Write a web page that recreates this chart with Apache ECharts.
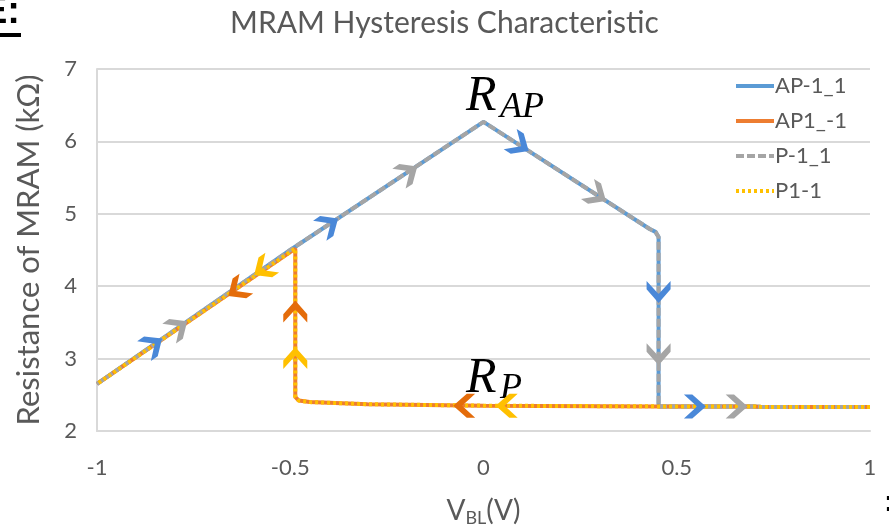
<!DOCTYPE html>
<html>
<head>
<meta charset="utf-8">
<script src="https://cdn.jsdelivr.net/npm/echarts@6/dist/echarts.min.js"></script>
<style>
  html, body { margin: 0; padding: 0; background: #fff; }
  #main { width: 889px; height: 529px; }
</style>
</head>
<body>
<div id="main"></div>
<script>
// Sweep curves: [V_BL (V), resistance (kΩ)]
const apNeg1to1 = [
  [-1, 2.65], [-0.5, 4.5], [0, 6.27], [0.43, 4.79], [0.445, 4.75], [0.453, 4.68],
  [0.453, 2.34], [0.7, 2.34], [0.72, 2.33], [1, 2.33]
];
const ap1toNeg1 = [
  [1, 2.33], [0.72, 2.33], [0.7, 2.34], [0.45, 2.34], [0, 2.35], [-0.3, 2.37],
  [-0.45, 2.4], [-0.478, 2.42], [-0.487, 2.47], [-0.487, 4.52], [-1, 2.65]
];
const pNeg1to1 = [
  [-1, 2.65], [-0.5, 4.5], [0, 6.27], [0.43, 4.79], [0.445, 4.75], [0.453, 4.68],
  [0.453, 2.34], [0.7, 2.34], [0.72, 2.33], [1, 2.33]
];
const p1toNeg1 = [
  [1, 2.33], [0.72, 2.33], [0.7, 2.34], [0.45, 2.34], [0, 2.35], [-0.3, 2.37],
  [-0.45, 2.4], [-0.478, 2.42], [-0.487, 2.47], [-0.487, 4.52], [-1, 2.65]
];

// Sweep-direction markers: [V, R, dV, dR] (direction given in data units)
const arrowsBlue = [
  [-0.855, 3.19, 1, 3.7], [-0.4, 4.85, 1, 3.55], [0.093, 5.95, 1, -3.44],
  [0.453, 3.92, 0, -1], [0.547, 2.34, 1, 0]
];
const arrowsGray = [
  [-0.79, 3.43, 1, 3.7], [-0.195, 5.57, 1, 3.55], [0.293, 5.26, 1, -3.44],
  [0.453, 3.06, 0, -1], [0.655, 2.34, 1, 0]
];
const arrowsOrange = [
  [-0.05, 2.35, -1, 0], [-0.487, 3.65, 0, 1], [-0.637, 3.95, -1, -3.7]
];
const arrowsYellow = [
  [0.06, 2.35, -1, 0], [-0.487, 3.01, 0, 1], [-0.57, 4.24, -1, -3.7]
];

const seriesNames = ['AP-1_1', 'AP1_-1', 'P-1_1', 'P1-1'];
const xTicks = [-1, -0.5, 0, 0.5, 1];
const yTicks = [2, 3, 4, 5, 6, 7];

const TEXT = '#595959';
const GRIDC = '#D9D9D9';
const FONT = 'Lato, "Open Sans", sans-serif';
const ARROW = 'path://M0,0 L8,0 L21,11.5 L8,23 L0,23 L12.5,11.5 Z';

const chart = echarts.init(document.getElementById('main'), null, { renderer: 'canvas' });

function lineSeries(name, data, color, type, z) {
  return {
    name: name, type: 'line', data: data, symbol: 'none', showSymbol: false,
    smooth: false, z: z, animation: false,
    lineStyle: { color: color, width: 4, type: type, cap: 'butt' },
    itemStyle: { color: color }
  };
}
function arrowSeries(data, color) {
  return {
    type: 'scatter', data: data.map(a => [a[0], a[1]]), symbol: ARROW,
    symbolSize: [22, 24], z: 10, animation: false, silent: true,
    itemStyle: { color: color, opacity: 1 }
  };
}

const option = {
  backgroundColor: '#fff',
  animation: false,
  title: {
    text: 'MRAM Hysteresis Characteristic', left: 'center', top: 3,
    textStyle: { color: TEXT, fontSize: 30, fontWeight: 'normal', fontFamily: FONT }
  },
  legend: {
    orient: 'vertical', left: 729, top: 70, itemWidth: 38, itemHeight: 14, itemGap: 13,
    data: seriesNames,
    itemStyle: { opacity: 0 },
    lineStyle: { width: 4 },
    textStyle: { color: TEXT, fontSize: 22, fontFamily: FONT, padding: [0, 0, 0, -4] }
  },
  grid: { left: 97, top: 69, width: 773, height: 362, containLabel: false },
  xAxis: {
    type: 'value', min: -1, max: 1, interval: 0.5,
    axisLine: { show: true, onZero: false, lineStyle: { color: GRIDC, width: 2 } },
    axisTick: { show: false }, splitLine: { show: false },
    axisLabel: {
      color: TEXT, fontSize: 22, fontFamily: FONT, margin: 26,
      formatter: v => { const t = xTicks.find(k => Math.abs(k - v) < 1e-9); return t === undefined ? '' : String(t); }
    }
  },
  yAxis: {
    type: 'value', min: 2, max: 7, interval: 1,
    axisLine: { show: true, onZero: false, lineStyle: { color: GRIDC, width: 2 } },
    axisTick: { show: false },
    splitLine: { show: true, lineStyle: { color: GRIDC, width: 2 } },
    axisLabel: {
      color: TEXT, fontSize: 22, fontFamily: FONT, margin: 20,
      formatter: v => { const t = yTicks.find(k => Math.abs(k - v) < 1e-9); return t === undefined ? '' : String(t); }
    },
    name: 'Resistance of MRAM (kΩ)', nameLocation: 'middle', nameGap: 53, nameRotate: 90,
    nameTextStyle: { color: TEXT, fontSize: 31, fontFamily: FONT }
  },
  series: [
    lineSeries(seriesNames[0], apNeg1to1, '#5B9BD5', 'solid', 2),
    lineSeries(seriesNames[1], ap1toNeg1, '#ED7D31', 'solid', 3),
    lineSeries(seriesNames[2], pNeg1to1, '#A5A5A5', [8, 3], 4),
    lineSeries(seriesNames[3], p1toNeg1, '#FFC000', [3, 3], 5),
    arrowSeries(arrowsBlue, '#4A88D8'),
    arrowSeries(arrowsGray, '#A5A5A5'),
    arrowSeries(arrowsOrange, '#E46C0A'),
    arrowSeries(arrowsYellow, '#FFC000')
  ]
};
chart.setOption(option);

// Orient each marker along its sweep direction in screen space
function oriented(list) {
  return list.map(a => {
    const p0 = chart.convertToPixel({ gridIndex: 0 }, [a[0], a[1]]);
    const p1 = chart.convertToPixel({ gridIndex: 0 }, [a[0] + a[2] * 0.01, a[1] + a[3] * 0.01]);
    const ang = Math.atan2(-(p1[1] - p0[1]), p1[0] - p0[0]) * 180 / Math.PI;
    return { value: [a[0], a[1]], symbolRotate: ang };
  });
}

// State labels anchored in data space
const px = (x, y) => chart.convertToPixel({ gridIndex: 0 }, [x, y]);
const serif = 'italic 50px "Liberation Serif", "DejaVu Serif", serif';
const serifSub = 'italic 36px "Liberation Serif", "DejaVu Serif", serif';
const rAP = px(-0.045, 6.47), rAPsub = px(0.043, 6.34);
const rP = px(-0.045, 2.57), rPsub = px(0.043, 2.46);
const ttl = px(0, 2);

chart.setOption({
  series: [
    {}, {}, {}, {},
    { data: oriented(arrowsBlue) },
    { data: oriented(arrowsGray) },
    { data: oriented(arrowsOrange) },
    { data: oriented(arrowsYellow) }
  ],
  graphic: [
    { type: 'text', left: rAP[0], top: rAP[1] - 36, style: { text: 'R', font: serif, fill: '#000' } },
    { type: 'text', left: rAPsub[0], top: rAPsub[1] - 27, style: { text: 'AP', font: serifSub, fill: '#000' } },
    { type: 'text', left: rP[0], top: rP[1] - 36, style: { text: 'R', font: serif, fill: '#000' } },
    { type: 'text', left: rPsub[0], top: rPsub[1] - 27, style: { text: 'P', font: serifSub, fill: '#000' } },
    {
      type: 'text', x: ttl[0], y: 494,
      style: {
        text: '{v|V}{s|BL}{v|(V)}', align: 'center', verticalAlign: 'top',
        rich: {
          v: { fontSize: 28, fontFamily: FONT, fill: TEXT, color: TEXT },
          s: { fontSize: 18, fontFamily: FONT, fill: TEXT, color: TEXT, padding: [15, 0, 0, 0] }
        }
      }
    },
    { type: 'text', x: 20, y: -6, style: { text: 'E:', font: 'bold 38px Arial, "Liberation Sans", sans-serif', fill: '#000', align: 'right', verticalAlign: 'top' } },
    { type: 'rect', shape: { x: 0, y: 33, width: 21, height: 4 }, style: { fill: '#000' } },
    { type: 'text', x: 889, y: 488, style: { text: ':', font: 'bold 30px Arial, "Liberation Sans", sans-serif', fill: '#000', align: 'center', verticalAlign: 'top' } }
  ]
});
</script>
</body>
</html>
